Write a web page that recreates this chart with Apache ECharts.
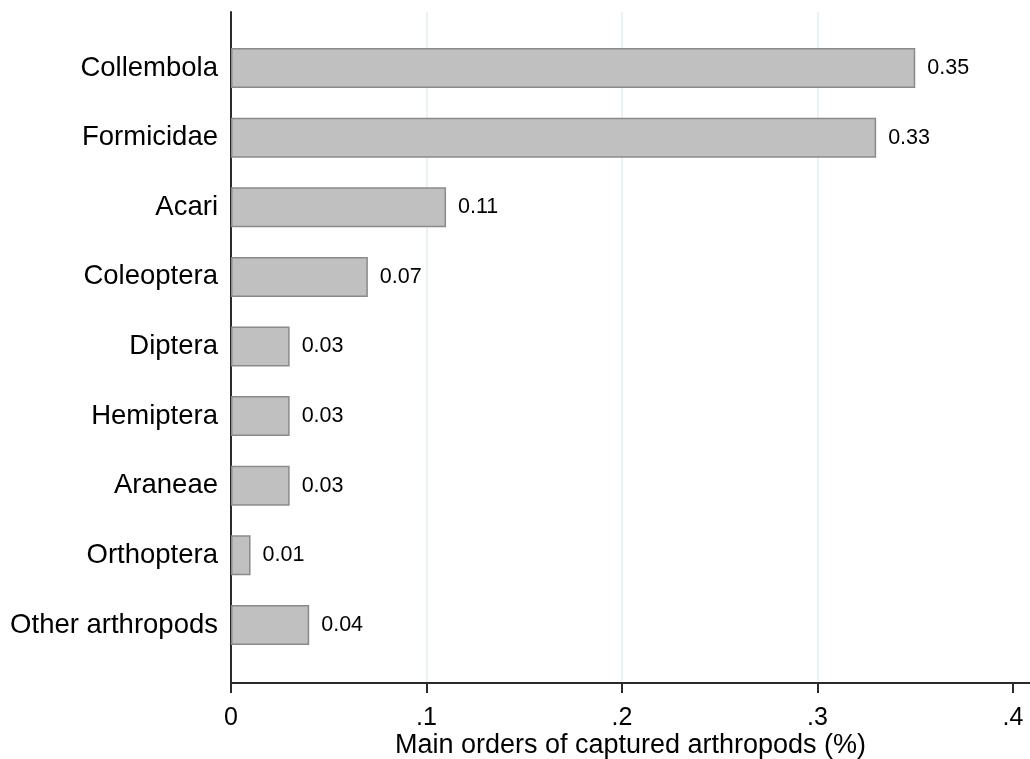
<!DOCTYPE html>
<html>
<head>
<meta charset="utf-8">
<script src="https://cdn.jsdelivr.net/npm/echarts@6/dist/echarts.min.js"></script>
<style>
  html, body { margin: 0; padding: 0; background: #fff; }
  #chart { width: 1030px; height: 759px; }
</style>
</head>
<body>
<div id="chart"></div>
<script>
var categories = ['Collembola', 'Formicidae', 'Acari', 'Coleoptera', 'Diptera', 'Hemiptera', 'Araneae', 'Orthoptera', 'Other arthropods'];
var values = [0.35, 0.33, 0.11, 0.07, 0.03, 0.03, 0.03, 0.01, 0.04];
var tickValues = [0, 0.1, 0.2, 0.3, 0.4];
var tickLabels = ['0', '.1', '.2', '.3', '.4'];
var axisTitle = 'Main orders of captured arthropods (%)';
var xMax = 0.4087;

var FONT = '"Liberation Sans", Arial, sans-serif';
var chart = echarts.init(document.getElementById('chart'), null, { renderer: 'canvas' });

function tickLabel(v) {
  for (var i = 0; i < tickValues.length; i++) {
    if (Math.abs(v - tickValues[i]) < 1e-9) return tickLabels[i];
  }
  return '';
}

chart.setOption({
  backgroundColor: '#ffffff',
  animation: false,
  grid: [
    { left: 231, right: 0, top: 12, bottom: 76, containLabel: false, outerBoundsMode: 'none' },
    { left: 231, right: 0, top: 33.2, bottom: 99.2, containLabel: false, outerBoundsMode: 'none' }
  ],
  xAxis: [
    {
      gridIndex: 0, type: 'value', min: 0, max: xMax, interval: 0.1,
      position: 'bottom',
      axisLine: { show: true, lineStyle: { color: '#2b2b2b', width: 2 } },
      axisTick: { show: true, length: 10, customValues: tickValues, lineStyle: { color: '#2b2b2b', width: 2 } },
      axisLabel: {
        show: true, customValues: tickValues, formatter: tickLabel,
        margin: 23, fontSize: 25, color: '#000', fontFamily: FONT
      },
      splitLine: { show: true, showMinLine: false, showMaxLine: false, lineStyle: { color: '#e4eef0', width: 1.5 } },
      name: axisTitle, nameLocation: 'middle', nameGap: 49, nameMoveOverlap: false,
      nameTextStyle: { fontSize: 27, color: '#000', fontFamily: FONT }
    },
    {
      gridIndex: 1, type: 'value', min: 0, max: xMax, interval: 0.1, show: false
    }
  ],
  yAxis: [
    {
      gridIndex: 0, type: 'value', min: 0, max: 1,
      axisLine: { show: true, lineStyle: { color: '#2b2b2b', width: 2 } },
      axisTick: { show: false }, axisLabel: { show: false }, splitLine: { show: false }
    },
    {
      gridIndex: 1, type: 'category', data: categories, inverse: true,
      axisLine: { show: false }, axisTick: { show: false }, splitLine: { show: false },
      axisLabel: { margin: 13, fontSize: 27.5, color: '#000', fontFamily: FONT }
    }
  ],
  series: [
    {
      type: 'bar', xAxisIndex: 1, yAxisIndex: 1, data: values,
      barWidth: 40,
      itemStyle: { color: '#c0c0c0', borderColor: '#8a8a8a', borderWidth: 1.5 },
      label: {
        show: true, position: 'right', distance: 12,
        fontSize: 21.5, color: '#000', fontFamily: FONT,
        formatter: function (p) { return p.value.toFixed(2); }
      }
    }
  ]
});
</script>
</body>
</html>
